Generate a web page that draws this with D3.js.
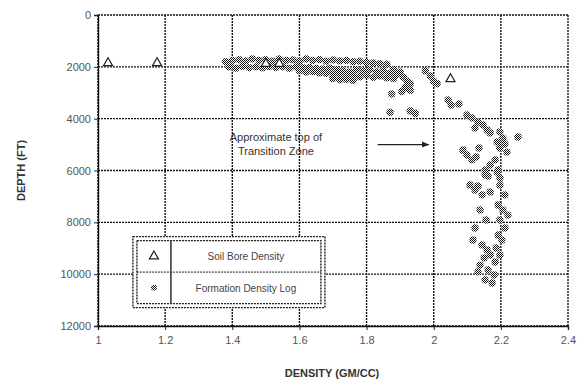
<!DOCTYPE html>
<html>
<head>
<meta charset="utf-8">
<script src="https://cdn.jsdelivr.net/npm/d3@7"></script>
<style>
  body { margin: 0; background: #fff; }
  text { font-family: "Liberation Sans", Arial, sans-serif; }
</style>
</head>
<body>
<svg id="chart" width="585" height="385"></svg>
<script>
// axis ticks
const densityTicks = [1, 1.2, 1.4, 1.6, 1.8, 2, 2.2, 2.4];
const depthTicks = [0, 2000, 4000, 6000, 8000, 10000, 12000];

// Soil Bore Density (triangles)
const soilDensity = [1.03, 1.176, 1.50, 1.54, 2.05];
const soilDepth   = [1850, 1850, 1880, 1880, 2470];

// Formation Density Log (dots)
const logDensity = [
  1.38, 1.40, 1.42, 1.44, 1.46, 1.48, 1.50, 1.52, 1.54, 1.56, 1.58, 1.60, 1.62, 1.64, 1.66, 1.68, 1.70, 1.72, 1.74, 1.76, 1.78, 1.80, 1.82, 1.84, 1.86,
  1.39, 1.41, 1.43, 1.45, 1.47, 1.49, 1.51, 1.53, 1.55, 1.57, 1.59, 1.61, 1.63, 1.65, 1.67, 1.69, 1.71, 1.73, 1.75, 1.77, 1.79, 1.81, 1.83, 1.85, 1.87, 1.89,
  1.60, 1.62, 1.64, 1.66, 1.68, 1.70, 1.72, 1.74, 1.76, 1.78, 1.80, 1.82, 1.84, 1.86, 1.88,
  1.70, 1.72, 1.74, 1.76, 1.88, 1.90, 1.91, 1.92, 1.93, 1.915, 1.905, 1.93,
  1.875, 1.87, 1.93, 1.945,
  1.975, 1.99, 2.0, 2.01,
  2.043, 2.052, 2.075,
  2.099, 2.114, 2.132, 2.147, 2.159, 2.168, 2.123,
  2.251,
  2.197, 2.206, 2.212, 2.197, 2.218, 2.189,
  2.087, 2.099, 2.114, 2.126, 2.135,
  2.153, 2.168, 2.183, 2.192, 2.162, 2.197,
  2.153, 2.189, 2.108, 2.123, 2.144, 2.168, 2.132,
  2.197, 2.212, 2.192, 2.206, 2.221, 2.197, 2.212, 2.192, 2.203, 2.186, 2.197, 2.183,
  2.117, 2.144, 2.159, 2.168, 2.150,
  2.138, 2.162, 2.180, 2.153, 2.174, 2.132,
  2.138, 2.156, 2.123
];
const logDepth = [
  1800, 1750, 1720, 1770, 1700, 1750, 1720, 1780, 1700, 1750, 1730, 1770, 1700, 1750, 1720, 1780, 1730, 1770, 1750, 1800, 1780, 1830, 1850, 1880, 1900,
  2000, 2050, 1980, 2030, 2000, 2040, 1990, 2030, 2000, 2050, 2000, 2030, 2020, 2060, 2080, 2050, 2100, 2150, 2200, 2100, 2150, 2100, 2200, 2150, 2250, 2300,
  2150, 2200, 2180, 2230, 2250, 2280, 2300, 2350, 2330, 2380, 2320, 2400, 2350, 2420, 2450,
  2450, 2500, 2480, 2520, 2100, 2200, 2400, 2550, 2650, 2800, 2950, 2900,
  3050, 3750, 3700, 3800,
  2150, 2350, 2550, 2650,
  3280, 3470, 3430,
  3860, 3970, 4130, 4240, 4440, 4550, 4360,
  4710,
  4510, 4750, 4980, 5130, 5290, 4900,
  5210, 5400, 5590, 5480, 5130,
  5980, 5790, 5590, 5980, 6210, 6290,
  6170, 6060, 6560, 6750, 6940, 6830, 6600,
  6560, 6940, 7330, 7520, 7720, 7910, 8220, 8490, 8680, 8990, 9260, 9530,
  8680, 8870, 9070, 9260, 9370,
  9650, 9840, 10030, 10220, 10340, 9910,
  7520, 7910, 8220
];

const legendLabels = ["Soil Bore Density", "Formation Density Log"];

const svg = d3.select("#chart");
const margin = {left: 98, top: 15, right: 17, bottom: 59};
const W = 585, H = 385;

const x = d3.scaleLinear().domain([1, 2.4]).range([margin.left, W - margin.right]);
const y = d3.scaleLinear().domain([0, 12000]).range([margin.top, H - margin.bottom]);

// checkerboard fill to imitate the dithered markers
const defs = svg.append("defs");
const pat = defs.append("pattern").attr("id", "dither")
  .attr("width", 2).attr("height", 2).attr("patternUnits", "userSpaceOnUse");
pat.append("rect").attr("width", 2).attr("height", 2).attr("fill", "#fff");
pat.append("rect").attr("width", 1).attr("height", 1).attr("fill", "#111");
pat.append("rect").attr("x", 1).attr("y", 1).attr("width", 1).attr("height", 1).attr("fill", "#111");

defs.append("marker").attr("id", "arrow")
  .attr("viewBox", "0 0 10 10").attr("refX", 9).attr("refY", 5)
  .attr("markerWidth", 6).attr("markerHeight", 6).attr("orient", "auto")
  .append("path").attr("d", "M0,1 L10,5 L0,9 Z").attr("fill", "#222");

const g = svg.append("g");

// grid lines
g.selectAll(".vgrid").data(densityTicks).join("line")
  .attr("x1", d => x(d)).attr("x2", d => x(d))
  .attr("y1", y(0)).attr("y2", y(12000))
  .attr("stroke", "#111").attr("stroke-width", 1.4).attr("stroke-dasharray", "2,1");
g.selectAll(".hgrid").data(depthTicks).join("line")
  .attr("x1", x(1)).attr("x2", x(2.4))
  .attr("y1", d => y(d)).attr("y2", d => y(d))
  .attr("stroke", "#111").attr("stroke-width", 1.4).attr("stroke-dasharray", "2,1");

// axes
const xAxis = g.append("g").attr("transform", `translate(0,${y(12000)})`)
  .call(d3.axisBottom(x).tickValues(densityTicks).tickFormat(d3.format("")).tickSize(4).tickPadding(6));
const yAxis = g.append("g").attr("transform", `translate(${x(1)},0)`)
  .call(d3.axisLeft(y).tickValues(depthTicks).tickFormat(d => d).tickSize(4).tickPadding(3));
[xAxis, yAxis].forEach(a => {
  a.select(".domain").attr("stroke", "#111").attr("stroke-width", 1.4);
  a.selectAll("line").attr("stroke", "#222");
  a.selectAll("text").attr("fill", "#555").style("font-size", "11px")
    .style("font-family", "'Liberation Sans', Arial, sans-serif");
});

// axis titles
svg.append("text").attr("x", 332).attr("y", 377).attr("text-anchor", "middle")
  .attr("fill", "#333").style("font-size", "11px").style("font-weight", "bold")
  .text("DENSITY (GM/CC)");
svg.append("text").attr("transform", `translate(25,${(y(0) + y(12000)) / 2}) rotate(-90)`)
  .attr("text-anchor", "middle").attr("fill", "#333")
  .style("font-size", "11px").style("font-weight", "bold")
  .text("DEPTH (FT)");

// formation density log points
const logPts = logDensity.map((d, i) => ({d, z: logDepth[i]}));
g.selectAll(".log").data(logPts).join("circle")
  .attr("cx", p => x(p.d)).attr("cy", p => y(p.z)).attr("r", 3.7)
  .attr("fill", "url(#dither)");

// soil bore density triangles
const tri = d3.symbol().type(d3.symbolTriangle).size(36);
const soilPts = soilDensity.map((d, i) => ({d, z: soilDepth[i]}));
g.selectAll(".soil").data(soilPts).join("path")
  .attr("d", tri)
  .attr("transform", p => `translate(${x(p.d)},${y(p.z)})`)
  .attr("fill", "#fff").attr("stroke", "#222").attr("stroke-width", 1.2);

// annotation
const note = svg.append("text").attr("text-anchor", "middle").attr("fill", "#333")
  .style("font-size", "11px");
note.append("tspan").attr("x", x(1.53)).attr("y", y(4850)).text("Approximate top of");
note.append("tspan").attr("x", x(1.53)).attr("dy", 14).text("Transition Zone");
svg.append("line")
  .attr("x1", x(1.833)).attr("x2", x(1.985))
  .attr("y1", y(5000)).attr("y2", y(5000))
  .attr("stroke", "#222").attr("stroke-width", 1.3)
  .attr("marker-end", "url(#arrow)");

// legend
const lx = x(1.104), ly = y(8550), lw = 192, lh = 71;
const leg = svg.append("g");
leg.append("rect").attr("x", lx).attr("y", ly).attr("width", lw).attr("height", lh)
  .attr("fill", "#fff").attr("stroke", "#222").attr("stroke-width", 1.4).attr("stroke-dasharray", "2,1");
leg.append("rect").attr("x", lx + 4).attr("y", ly + 4).attr("width", lw - 8).attr("height", lh - 8)
  .attr("fill", "#fff").attr("stroke", "#222").attr("stroke-width", 1.4).attr("stroke-dasharray", "2,1");
const colX = lx + 38, rowH = (lh - 8) / 2;
leg.append("line").attr("x1", colX).attr("x2", colX).attr("y1", ly + 4).attr("y2", ly + lh - 4)
  .attr("stroke", "#222").attr("stroke-width", 1.4);
leg.append("line").attr("x1", lx + 4).attr("x2", lx + lw - 4)
  .attr("y1", ly + 4 + rowH).attr("y2", ly + 4 + rowH)
  .attr("stroke", "#222").attr("stroke-dasharray", "2,1");
leg.append("path").attr("d", tri)
  .attr("transform", `translate(${lx + 21},${ly + 4 + rowH / 2})`)
  .attr("fill", "#fff").attr("stroke", "#222").attr("stroke-width", 1.2);
leg.append("circle").attr("cx", lx + 21).attr("cy", ly + 4 + rowH * 1.5).attr("r", 3)
  .attr("fill", "url(#dither)");
legendLabels.forEach((t, i) => {
  leg.append("text").attr("x", (colX + lx + lw - 4) / 2)
    .attr("y", ly + 4 + rowH * (i + 0.5) + 4)
    .attr("text-anchor", "middle").attr("fill", "#444").style("font-size", "10px")
    .text(t);
});
</script>
</body>
</html>
